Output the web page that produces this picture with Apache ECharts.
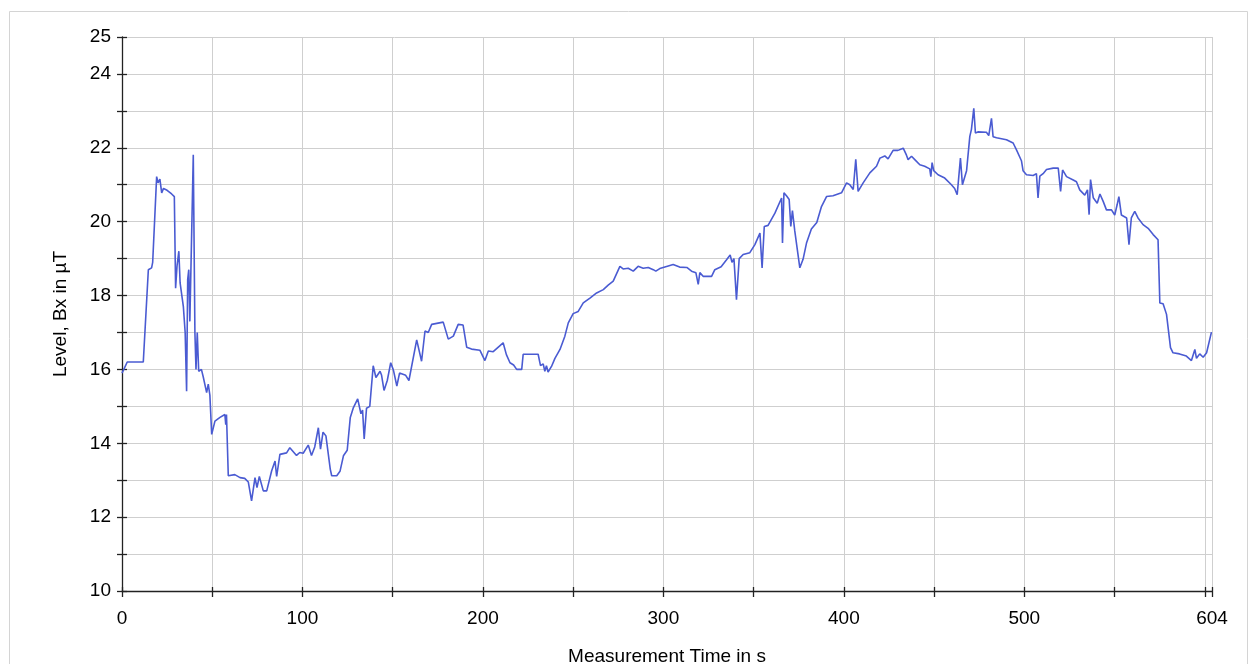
<!DOCTYPE html>
<html>
<head>
<meta charset="utf-8">
<script src="https://cdn.jsdelivr.net/npm/echarts@6/dist/echarts.min.js"></script>
<style>
html,body{margin:0;padding:0;background:#fff;}
#chart{width:1250px;height:664px;}
</style>
</head>
<body>
<div id="chart"></div>
<script>
// Measurement time in s
const times = [0,1,2.9,11.8,14.6,16.4,17,19.2,20,21,22,23,25,27.5,29,29.7,30.5,31.5,32.2,33,34,35,35.8,36.4,37,37.6,39.5,40.4,41,41.7,42.5,44,45,46,46.9,47.8,48.7,49.7,51.5,54.3,57,57.5,57.9,58.9,62.5,65.4,68,70,71.8,73.7,74.8,76.1,78.3,80.2,82.9,84.8,85.7,87.5,91.2,93,96.7,98.5,100.4,103.2,105,106.8,108.8,110,111.4,113,115.4,116.2,119,120.8,122.7,124.8,126.5,128.1,130.6,132.4,133.3,134.2,135.5,137.3,139.2,140.7,143,143.8,145.2,147,148.9,150.4,152.3,153.8,157.2,159,163.3,166,167.9,169.7,171.6,178,180.8,183.6,186.3,189,191,193.7,198.3,201.1,203,205.7,211.2,213,215,217,218.7,221.5,222.3,230.6,231.9,233.4,234.3,235.2,236.1,238,239.9,242.7,245.4,247.3,250,252.8,255.6,259.3,263,266.7,269.4,272.2,275.9,277.7,280.5,283.3,286,288.8,291.6,294.4,295.8,298,302.7,305.4,309,313,315.6,318,319.3,320.2,322,326.7,328.5,332,335,337,338,339.1,340.5,342,344.2,347.9,350.7,353.5,354.7,355.9,358,361.8,365.5,366,366.8,368.2,369.7,370.6,371.5,372.8,375.6,377.4,379.3,382,385,387.6,390.4,394,398.7,401.5,403.3,405.2,406.6,407.9,410.7,414.4,418.1,420,422.7,424.5,427.3,430,432.9,434.7,435.6,437.5,439.3,442.1,444.8,447.6,448.2,448.9,449.8,452.2,455.9,459.6,461.4,462.8,464.6,465.7,468,469.8,470.7,472,472.9,474.3,479,480.3,481.8,482.7,484.6,490.1,493.8,495.6,498.4,499.3,501.2,504.9,506.7,507.6,508.6,510.4,512.3,516,518.8,520.1,521.2,523.4,527.1,528.9,530.7,533.5,535,535.9,536.7,538.2,540.4,541.9,543.7,545.5,548.3,550.1,551.4,552.4,553.8,556.7,558,559.3,561.2,563,565.8,568.6,571.4,574.1,575.1,576.9,578.8,581,582.4,586,589.8,592.6,594.5,595.4,597.2,599.1,601,603.7];
// Level, Bx in µT
const levels = [15.9,16.0,16.2,16.2,18.7,18.75,18.9,21.22,21.05,21.15,20.78,20.9,20.85,20.75,20.68,18.2,18.8,19.2,18.34,18.3,17.7,17.0,15.41,18.43,18.7,17.3,21.81,17.0,16.0,17.0,15.95,16.0,15.8,15.85,15.37,15.6,15.3,14.24,14.6,14.7,14.78,14.5,14.78,13.12,13.15,13.07,13.05,12.95,12.44,13.07,12.8,13.1,12.71,12.71,13.25,13.52,13.1,13.7,13.74,13.88,13.67,13.75,13.73,13.95,13.67,13.9,14.42,13.84,14.3,14.2,13.3,13.12,13.12,13.24,13.66,13.81,14.7,14.95,15.2,14.8,14.9,14.12,14.95,15.0,16.1,15.78,15.95,15.85,15.43,15.7,16.18,15.98,15.55,15.9,15.84,15.7,16.8,16.22,17.04,17.0,17.22,17.28,16.82,16.9,17.22,17.2,16.6,16.55,16.52,16.24,16.5,16.48,16.72,16.4,16.18,16.12,16.0,16.0,16.41,16.41,16.1,16.15,15.95,16.1,15.93,16.08,16.3,16.54,16.9,17.26,17.51,17.57,17.8,17.93,18.07,18.16,18.28,18.39,18.79,18.72,18.74,18.66,18.79,18.74,18.76,18.7,18.66,18.73,18.8,18.84,18.77,18.76,18.66,18.62,18.3,18.62,18.52,18.52,18.7,18.78,18.97,19.1,18.9,19.0,17.89,19.0,19.11,19.16,19.38,19.69,18.75,19.87,19.9,20.23,20.64,19.42,20.78,20.7,20.6,19.87,20.3,19.75,18.75,18.98,19.42,19.8,19.98,20.41,20.68,20.7,20.78,21.05,21.0,20.87,21.69,20.82,21.05,21.32,21.5,21.72,21.78,21.7,21.93,21.93,21.99,21.8,21.68,21.77,21.68,21.54,21.5,21.43,21.22,21.6,21.38,21.27,21.18,21.0,20.9,20.73,21.72,21.0,21.38,22.31,22.5,23.07,22.4,22.43,22.42,22.33,22.8,22.3,22.27,22.22,22.13,21.95,21.65,21.38,21.27,21.25,21.3,20.64,21.23,21.3,21.41,21.45,21.45,20.82,21.4,21.22,21.13,21.08,20.86,20.72,20.86,20.19,21.14,20.65,20.5,20.75,20.55,20.32,20.32,20.18,20.45,20.68,20.18,20.1,19.38,20.1,20.28,20.1,19.92,19.82,19.65,19.51,17.8,17.78,17.49,16.59,16.45,16.42,16.36,16.24,16.54,16.3,16.42,16.33,16.45,17.01];
const xLabelValues = [0,100,200,300,400,500,604];
const yLabelValues = [10,12,14,16,18,20,22,24,25];
const xTitle = 'Measurement Time in s';
const yTitle = 'Level, Bx in µT';

const seriesData = times.map((t, i) => [t, levels[i]]);
const FONT = '"Liberation Sans", Arial, Helvetica, sans-serif';
const gridPos = {left: 122, right: 38, top: 37, bottom: 73};

const chart = echarts.init(document.getElementById('chart'), null, {renderer: 'canvas'});
chart.setOption({
  animation: false,
  backgroundColor: '#fff',
  graphic: [{
    type: 'rect', silent: true, z: -10,
    shape: {x: 9.5, y: 11.5, width: 1238, height: 660},
    style: {fill: 'none', stroke: '#d4d4d4', lineWidth: 1}
  }],
  grid: [
    Object.assign({containLabel: false, outerBoundsMode: 'none'}, gridPos),
    Object.assign({containLabel: false, outerBoundsMode: 'none'}, gridPos)
  ],
  xAxis: [{
    type: 'value', gridIndex: 0, min: 0, max: 604, interval: 50,
    name: xTitle, nameLocation: 'middle', nameGap: 56,
    nameTextStyle: {fontFamily: FONT, fontSize: 19, color: '#000'},
    axisLine: {show: true, onZero: false, lineStyle: {color: '#222', width: 1.3}},
    axisTick: {show: true, inside: false, length: 6, lineStyle: {color: '#222', width: 1.3}},
    axisLabel: {
      show: true, margin: 18, fontFamily: FONT, fontSize: 19, color: '#000',
      showMaxLabel: true,
      formatter: v => xLabelValues.indexOf(Math.round(v)) >= 0 && Math.abs(v - Math.round(v)) < 1e-6 ? String(Math.round(v)) : ''
    },
    splitLine: {show: true, lineStyle: {color: '#cfcfcf', width: 1}}
  }, {
    type: 'value', gridIndex: 1, min: 0, max: 604, interval: 50,
    axisLine: {show: false}, axisLabel: {show: false}, splitLine: {show: false},
    axisTick: {show: true, inside: true, length: 4, lineStyle: {color: '#222', width: 1.3}}
  }],
  yAxis: [{
    type: 'value', gridIndex: 0, min: 10, max: 25, interval: 1,
    name: yTitle, nameLocation: 'middle', nameGap: 52, nameRotate: 90,
    nameTextStyle: {fontFamily: FONT, fontSize: 19, color: '#000'},
    axisLine: {show: true, onZero: false, lineStyle: {color: '#222', width: 1.3}},
    axisTick: {show: true, inside: false, length: 5, lineStyle: {color: '#222', width: 1.3}},
    axisLabel: {
      show: true, margin: 11, fontFamily: FONT, fontSize: 19, color: '#000',
      formatter: v => yLabelValues.indexOf(v) >= 0 ? String(v) : ''
    },
    splitLine: {show: true, lineStyle: {color: '#cfcfcf', width: 1}}
  }, {
    type: 'value', gridIndex: 1, min: 10, max: 25, interval: 1,
    axisLine: {show: false}, axisLabel: {show: false}, splitLine: {show: false},
    axisTick: {show: true, inside: true, length: 5, lineStyle: {color: '#222', width: 1.3}}
  }],
  series: [{
    type: 'line', xAxisIndex: 0, yAxisIndex: 0,
    data: seriesData, showSymbol: false, symbol: 'none',
    lineStyle: {color: '#4a5bd2', width: 1.6},
    z: 5
  }]
});
</script>
</body>
</html>
